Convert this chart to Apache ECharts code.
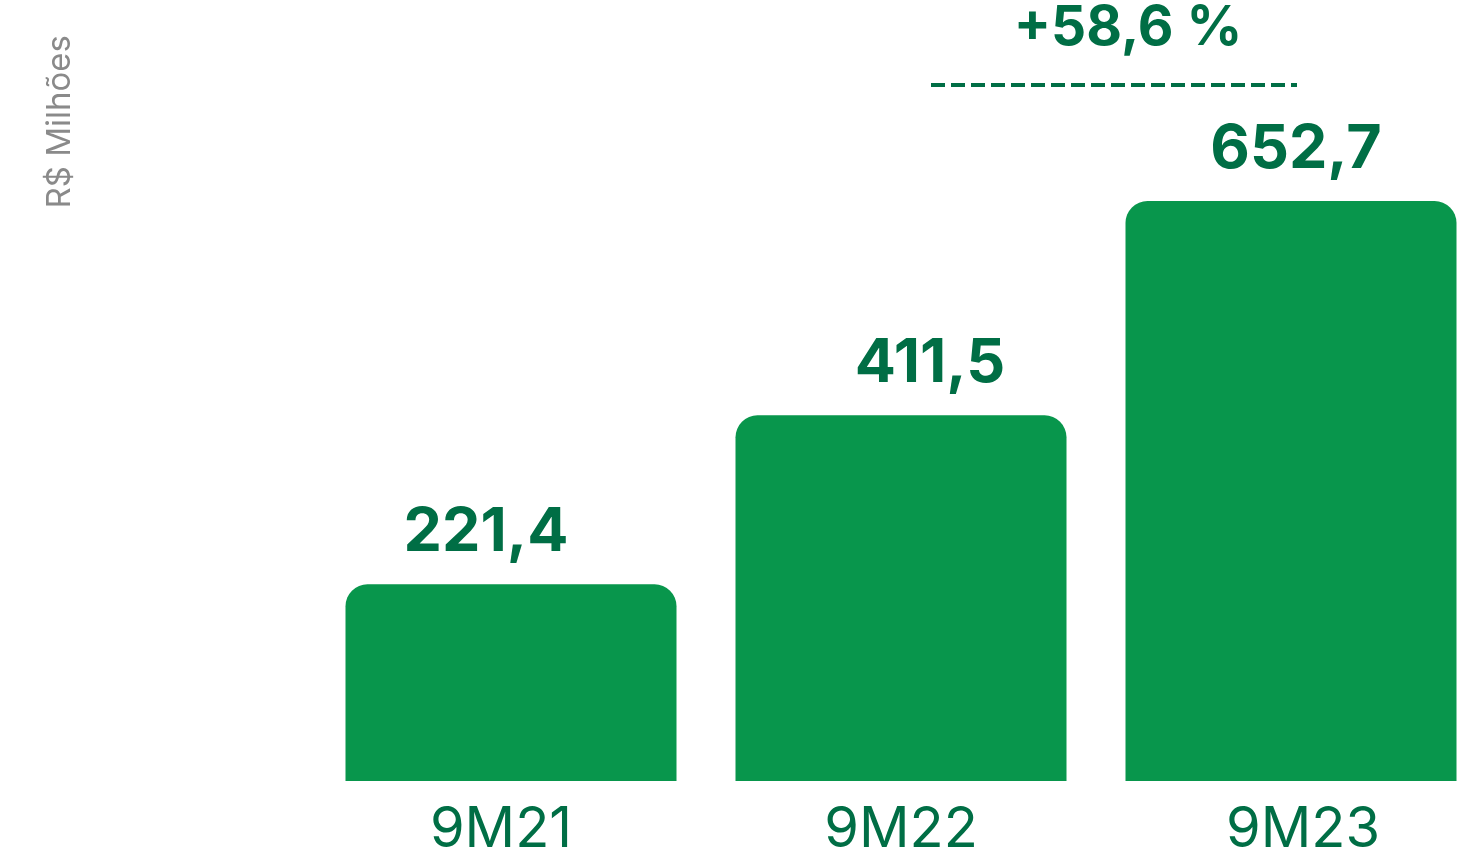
<!DOCTYPE html>
<html>
<head>
<meta charset="utf-8">
<script src="https://cdn.jsdelivr.net/npm/echarts@6/dist/echarts.min.js"></script>
<style>
  html, body { margin: 0; padding: 0; background: #fff; }
  #main { width: 1460px; height: 865px; }
</style>
</head>
<body>
<div id="main"></div>
<script>
var categories = ['9M21', '9M22', '9M23'];
var values = [221.4, 411.5, 652.7];
var growthText = '+58,6 %';
var unitText = 'R$ Milhões';

var barColor = '#08964c';
var textColor = '#006e45';
// small horizontal shifts of the value labels, as in the source picture
var labelShift = [-25, 29, 5];
var catPad = [[0, 20, 0, 0], [0, 0, 0, 0], [0, 0, 0, 24]];

var myChart = echarts.init(document.getElementById('main'));

var option = {
    animation: false,
    grid: {
        left: 316,
        width: 1170,
        top: 159,
        bottom: 84,
        outerBoundsMode: 'none'
    },
    xAxis: {
        type: 'category',
        data: categories.map(function (c, i) {
            return { value: c, textStyle: { padding: catPad[i] } };
        }),
        axisLine: { show: false },
        axisTick: { show: false },
        axisLabel: {
            color: textColor,
            fontFamily: 'Inter',
            fontSize: 56,
            margin: 21
        }
    },
    yAxis: {
        type: 'value',
        min: 0,
        max: 700,
        show: false
    },
    series: [{
        type: 'bar',
        barWidth: 331,
        itemStyle: { color: barColor, borderRadius: [22, 22, 0, 0] },
        data: values.map(function (v, i) {
            return {
                value: v,
                label: { offset: [labelShift[i], 0] }
            };
        }),
        label: {
            show: true,
            position: 'top',
            distance: 21,
            color: textColor,
            fontFamily: 'Inter',
            fontWeight: 'bold',
            fontSize: 61,
            formatter: function (p) {
                return p.value.toFixed(1).replace('.', ',');
            }
        }
    }],
    graphic: [
        {
            type: 'text',
            left: 44,
            top: 35,
            rotation: Math.PI / 2,
            style: {
                text: unitText,
                fill: '#8a8a8a',
                font: '33px Inter'
            }
        },
        {
            type: 'text',
            x: 1128,
            y: 1,
            style: {
                text: growthText,
                fill: textColor,
                font: 'bold 55px Inter',
                textAlign: 'center'
            }
        },
        {
            type: 'line',
            shape: { x1: 931, y1: 85, x2: 1297, y2: 85 },
            style: {
                stroke: textColor,
                lineWidth: 4,
                lineDash: [14, 6],
                lineCap: 'butt'
            }
        }
    ]
};

myChart.setOption(option);
</script>
</body>
</html>
